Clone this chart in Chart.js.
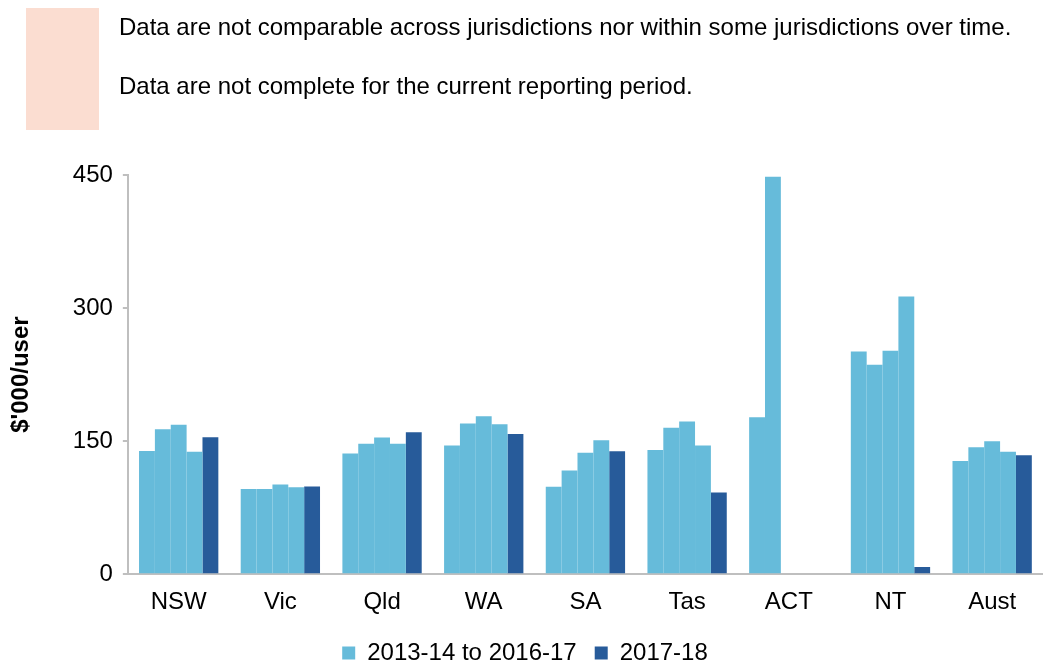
<!DOCTYPE html>
<html>
<head>
<meta charset="utf-8">
<script src="https://cdn.jsdelivr.net/npm/chart.js@4.4.0/dist/chart.umd.min.js"></script>
<style>
  body { margin: 0; background: #fff; font-family: "Liberation Sans", Arial, sans-serif; }
  #wrap { position: absolute; left: 0; top: 0; width: 1043px; height: 664px; }
  #note { position: absolute; left: 26px; top: 8px; width: 73px; height: 122px; background: #fbddd1; }
  .txt { position: absolute; left: 119px; font-size: 24px; line-height: 28px; color: #000; white-space: nowrap; }
</style>
</head>
<body>
<div id="wrap"><canvas id="myChart"></canvas></div>
<div id="note"></div>
<div class="txt" style="top:13px">Data are not comparable across jurisdictions nor within some jurisdictions over time.</div>
<div class="txt" style="top:72px">Data are not complete for the current reporting period.</div>
<script>
// jurisdictions
const labels = ['NSW', 'Vic', 'Qld', 'WA', 'SA', 'Tas', 'ACT', 'NT', 'Aust'];

// $'000 per user, one array per year
const y2013_14 = [139, 96, 136, 145, 98.5, 140, 177, 251, 127.5];
const y2014_15 = [163.5, 96, 147, 170, 117, 165, 448, 236, 143];
const y2015_16 = [168.5, 101, 154, 178, 137, 172, null, 252, 150];
const y2016_17 = [138, 98, 147, 169, 151, 145, null, 313, 138];
const y2017_18 = [154.5, 99, 160, 158, 138.5, 92, null, 8, 134];

const legendNames = ['2013-14 to 2016-17', '2017-18'];

const light = '#66bbda';
const dark = '#275b9a';
const font = { family: 'Liberation Sans', size: 24 };

const ctx = document.getElementById('myChart').getContext('2d');
new Chart(ctx, {
    type: 'bar',
    data: {
        labels: labels,
        datasets: [
            { label: '2013-14', data: y2013_14, backgroundColor: light },
            { label: '2014-15', data: y2014_15, backgroundColor: light },
            { label: '2015-16', data: y2015_16, backgroundColor: light },
            { label: '2016-17', data: y2016_17, backgroundColor: light },
            { label: '2017-18', data: y2017_18, backgroundColor: dark }
        ]
    },
    options: {
        responsive: true,
        maintainAspectRatio: false,
        animation: false,
        layout: { padding: { top: 175, right: 0, left: 7, bottom: -11 } },
        datasets: {
            bar: { barPercentage: 1, categoryPercentage: 0.78 }
        },
        scales: {
            x: {
                grid: { display: false },
                border: { display: true, color: '#bfbfbf', width: 2 },
                ticks: { color: '#000', font: font, padding: 6 }
            },
            y: {
                min: 0,
                max: 450,
                ticks: { stepSize: 150, color: '#000', font: font, padding: 10 },
                grid: { drawOnChartArea: false, drawTicks: true, tickLength: 5, color: '#bfbfbf', lineWidth: 2 },
                border: { display: true, color: '#bfbfbf', width: 2 },
                title: {
                    display: true,
                    text: "$'000/user",
                    color: '#000',
                    font: { family: 'Liberation Sans', size: 24, weight: 'bold' },
                    padding: { top: 0, bottom: 27 }
                }
            }
        },
        plugins: {
            tooltip: { enabled: false },
            legend: {
                position: 'bottom',
                labels: {
                    color: '#000',
                    font: font,
                    boxWidth: 13,
                    boxHeight: 13,
                    padding: 18,
                    generateLabels: chart => {
                        const items = Chart.defaults.plugins.legend.labels.generateLabels(chart);
                        const keep = [items[0], items[4]];
                        keep.forEach((it, i) => { it.text = legendNames[i]; it.lineWidth = 0; });
                        return keep;
                    }
                }
            }
        }
    }
});
</script>
</body>
</html>
